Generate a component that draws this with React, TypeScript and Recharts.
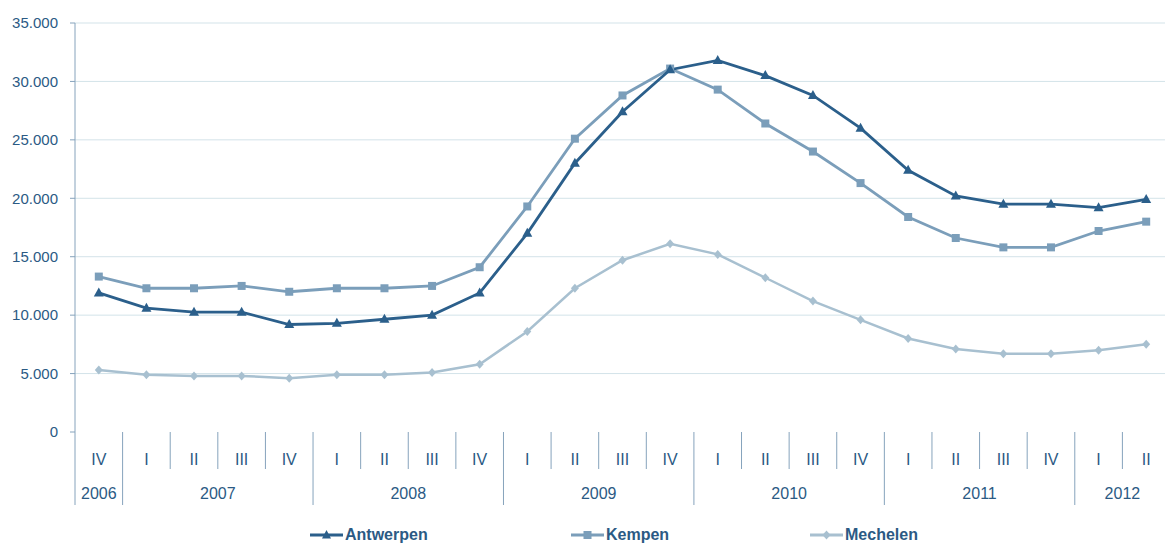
import React from 'react';
import { LineChart, Line, XAxis, YAxis, CartesianGrid, Legend } from 'recharts';

const quarters = ['IV', 'I', 'II', 'III', 'IV', 'I', 'II', 'III', 'IV', 'I', 'II', 'III', 'IV', 'I', 'II', 'III', 'IV', 'I', 'II', 'III', 'IV', 'I', 'II'];
const years = ['2006', '2007', '2007', '2007', '2007', '2008', '2008', '2008', '2008', '2009', '2009', '2009', '2009', '2010', '2010', '2010', '2010', '2011', '2011', '2011', '2011', '2012', '2012'];
const antwerpen = [11900, 10600, 10250, 10250, 9200, 9300, 9650, 10000, 11900, 17000, 23000, 27400, 31000, 31800, 30500, 28800, 26000, 22400, 20200, 19500, 19500, 19200, 19900];
const kempen = [13300, 12300, 12300, 12500, 12000, 12300, 12300, 12500, 14100, 19300, 25100, 28800, 31100, 29300, 26400, 24000, 21300, 18400, 16600, 15800, 15800, 17200, 18000];
const mechelen = [5300, 4900, 4800, 4800, 4600, 4900, 4900, 5100, 5800, 8600, 12300, 14700, 16100, 15200, 13200, 11200, 9600, 8000, 7100, 6700, 6700, 7000, 7500];
const yTicks = [0, 5000, 10000, 15000, 20000, 25000, 30000, 35000];
const gridValues = [5000, 10000, 15000, 20000, 25000, 30000, 35000];

const data = quarters.map((q, i) => ({
  key: `${years[i]}-${q}`,
  Antwerpen: antwerpen[i],
  Kempen: kempen[i],
  Mechelen: mechelen[i],
}));

const CHART_W = 1170;
const CHART_H = 545;
const AXIS_W = 75;
const PLOT_W = CHART_W - AXIS_W;
const BW = PLOT_W / quarters.length;
const PLOT_TOP = 23;
const PLOT_BOTTOM = 432;
const X_AXIS_H = 73;
const LEGEND_H = 22;

const TEXT = '#2b5a84';
const SEP = '#86a3bc';
const GRID = '#d3e3e9';
const C_ANT = '#2b5f8b';
const C_KEM = '#7b9eba';
const C_MEC = '#a8c0d0';
const FONT = '"Liberation Sans", Arial, sans-serif';

const fmt = (v: number) => String(v).replace(/\B(?=(\d{3})+(?!\d))/g, '.');

const Triangle = (props: any) => {
  const { cx, cy, fill } = props;
  if (cx == null || cy == null) return null;
  return <path d={`M${cx},${cy - 5.5} L${cx + 5},${cy + 3.5} L${cx - 5},${cy + 3.5} Z`} fill={fill} />;
};
const Square = (props: any) => {
  const { cx, cy, fill } = props;
  if (cx == null || cy == null) return null;
  return <rect x={cx - 4} y={cy - 4} width={8} height={8} fill={fill} />;
};
const Diamond = (props: any) => {
  const { cx, cy, fill } = props;
  if (cx == null || cy == null) return null;
  return <path d={`M${cx},${cy - 4.5} L${cx + 4},${cy} L${cx},${cy + 4.5} L${cx - 4},${cy} Z`} fill={fill} />;
};

const QuarterTick = (props: any) => {
  const { x, index } = props;
  const left = x - BW / 2;
  const firstOfYear = index === 0 || years[index] !== years[index - 1];
  let yearLabel = null;
  if (firstOfYear) {
    const count = years.filter((y) => y === years[index]).length;
    const cx = x + ((count - 1) / 2) * BW;
    yearLabel = (
      <text x={cx} y={PLOT_BOTTOM + 61} textAnchor="middle" dominantBaseline="central" fill={TEXT} fontSize={16} fontFamily={FONT}>
        {years[index]}
      </text>
    );
  }
  return (
    <g>
      <line x1={left} x2={left} y1={PLOT_BOTTOM} y2={PLOT_BOTTOM + (firstOfYear ? 73 : 37)} stroke={SEP} strokeWidth={1} />
      <text x={x} y={PLOT_BOTTOM + 27} textAnchor="middle" dominantBaseline="central" fill={TEXT} fontSize={16} fontFamily={FONT}>
        {quarters[index]}
      </text>
      {yearLabel}
    </g>
  );
};

const legendItems = [
  { name: 'Antwerpen', color: C_ANT, shape: 'tri', width: 261 },
  { name: 'Kempen', color: C_KEM, shape: 'sq', width: 239 },
  { name: 'Mechelen', color: C_MEC, shape: 'dia', width: 120 },
];

const LegendContent = () => (
  <div style={{ display: 'flex', alignItems: 'center', height: LEGEND_H, paddingLeft: 310 }}>
    {legendItems.map((it) => (
      <div key={it.name} style={{ display: 'flex', alignItems: 'center', width: it.width }}>
        <svg width={33} height={12} style={{ display: 'block' }}>
          <line x1={0} x2={33} y1={6} y2={6} stroke={it.color} strokeWidth={3} />
          {it.shape === 'tri' && <path d="M16.5,1 L21,9.5 L12,9.5 Z" fill={it.color} />}
          {it.shape === 'sq' && <rect x={12.5} y={2} width={8} height={8} fill={it.color} />}
          {it.shape === 'dia' && <path d="M16.5,1.5 L20.5,6 L16.5,10.5 L12.5,6 Z" fill={it.color} />}
        </svg>
        <span style={{ marginLeft: 2, color: TEXT, fontFamily: FONT, fontSize: 16, fontWeight: 'bold' }}>{it.name}</span>
      </div>
    ))}
  </div>
);

export default function App() {
  return (
    <div style={{ position: 'absolute', left: 0, top: 0, width: 1165, height: 545, overflow: 'hidden', background: '#fff' }}>
      <LineChart
        width={CHART_W}
        height={CHART_H}
        data={data}
        margin={{ top: PLOT_TOP, right: 0, left: 0, bottom: CHART_H - PLOT_BOTTOM - X_AXIS_H - LEGEND_H }}
      >
        <CartesianGrid vertical={false} stroke={GRID} horizontalValues={gridValues} />
        <XAxis
          dataKey="key"
          height={X_AXIS_H}
          axisLine={false}
          tickLine={false}
          interval={0}
          padding={{ left: BW / 2, right: BW / 2 }}
          tick={<QuarterTick />}
        />
        <YAxis
          width={AXIS_W}
          domain={[0, 35000]}
          ticks={yTicks}
          interval={0}
          tickFormatter={fmt}
          axisLine={{ stroke: SEP, strokeWidth: 1 }}
          tickLine={{ stroke: SEP, strokeWidth: 1 }}
          tickSize={5}
          tickMargin={12}
          tick={{ fill: TEXT, fontSize: 15, fontFamily: FONT }}
        />
        <Legend
          verticalAlign="bottom"
          content={<LegendContent />}
          wrapperStyle={{ left: 0, width: 1165, height: LEGEND_H, top: 524 }}
        />
        <Line dataKey="Mechelen" stroke={C_MEC} strokeWidth={2.5} dot={<Diamond fill={C_MEC} />} activeDot={false} isAnimationActive={false} />
        <Line dataKey="Kempen" stroke={C_KEM} strokeWidth={2.8} dot={<Square fill={C_KEM} />} activeDot={false} isAnimationActive={false} />
        <Line dataKey="Antwerpen" stroke={C_ANT} strokeWidth={2.8} dot={<Triangle fill={C_ANT} />} activeDot={false} isAnimationActive={false} />
      </LineChart>
    </div>
  );
}
